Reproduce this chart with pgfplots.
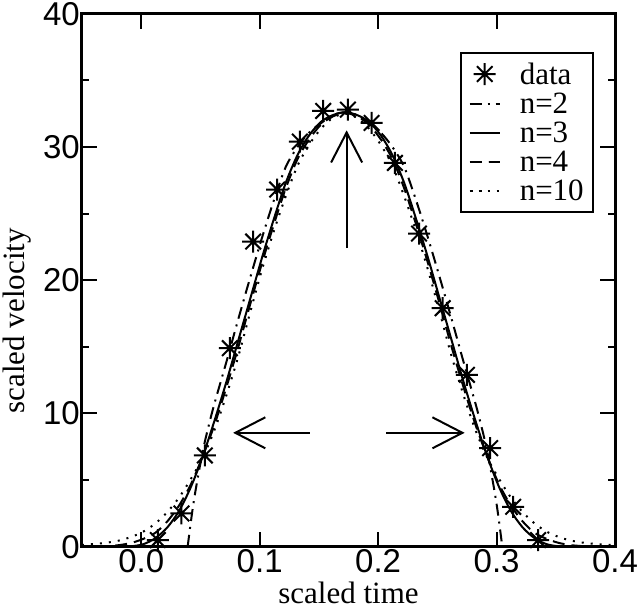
\documentclass[border=0pt]{standalone}
\usepackage{fontspec}
\setmainfont{Liberation Serif}
\newfontfamily\ticksans{Liberation Sans}
\usepackage{pgfplots}
\pgfplotsset{compat=1.18}
\usetikzlibrary{arrows.meta}

\newcommand\tickfont{\ticksans\fontsize{33}{33}\selectfont}
\newcommand\labfont{\fontsize{31}{31}\selectfont}
\newcommand\legfont{\fontsize{31}{31}\selectfont}

% eight-armed asterisk, as in the original plot
\pgfdeclareplotmark{star8}{%
  \pgfpathmoveto{\pgfqpoint{0pt}{\pgfplotmarksize}}%
  \pgfpathlineto{\pgfqpoint{0pt}{-\pgfplotmarksize}}%
  \pgfpathmoveto{\pgfqpoint{\pgfplotmarksize}{0pt}}%
  \pgfpathlineto{\pgfqpoint{-\pgfplotmarksize}{0pt}}%
  \pgfpathmoveto{\pgfqpoint{.707\pgfplotmarksize}{.707\pgfplotmarksize}}%
  \pgfpathlineto{\pgfqpoint{-.707\pgfplotmarksize}{-.707\pgfplotmarksize}}%
  \pgfpathmoveto{\pgfqpoint{-.707\pgfplotmarksize}{.707\pgfplotmarksize}}%
  \pgfpathlineto{\pgfqpoint{.707\pgfplotmarksize}{-.707\pgfplotmarksize}}%
  \pgfusepathqstroke}

\begin{document}
\begin{tikzpicture}
\begin{axis}[
    width=533pt, height=533pt, scale only axis,
    xmin=-0.05, xmax=0.4, ymin=0, ymax=40,
    xtick={0,0.1,0.2,0.3,0.4},
    xticklabels={0.0,0.1,0.2,0.3,0.4},
    ytick={0,10,20,30,40},
    minor ytick={5,15,25,35},
    tick align=inside,
    major tick length=15pt, minor tick length=7pt,
    tick style={line width=2pt, black},
    axis line style={line width=3pt},
    ticklabel style={font=\tickfont, inner sep=2pt},
    /pgf/number format/assume math mode=true,
    xlabel={scaled time}, ylabel={scaled velocity},
    label style={font=\labfont},
    xlabel style={yshift=-4pt},
    ylabel style={at={(ticklabel cs:0.424)}, yshift=6pt},
    legend image code/.code={%
        \draw[mark repeat=2,mark phase=2,#1] plot coordinates {(0pt,0pt) (15pt,0pt) (30pt,0pt)};},
    legend style={at={(0.96,0.929)}, anchor=north east, draw=black, line width=2pt,
        font=\legfont, inner xsep=8pt, inner ysep=9pt, row sep=5pt,
        nodes={inner sep=1pt},
        /tikz/every odd column/.append style={column sep=18pt}},
    legend cell align=left,
]
\addplot[only marks, mark=star8, mark size=11pt, mark options={line width=2pt}] coordinates {
    (0.014,0.5) (0.034,2.5) (0.0537,6.85) (0.0748,14.9) (0.0945,22.9) (0.1148,26.8)
    (0.1339,30.4) (0.1536,32.7) (0.1745,32.8) (0.1945,31.8) (0.2142,28.8) (0.2345,23.5)
    (0.2545,17.9) (0.275,12.9) (0.2945,7.4) (0.314,3.0) (0.335,0.5)
};
\addlegendentry{data}
\addplot[smooth, line width=2pt, dash pattern=on 12pt off 6pt on 2pt off 6pt] coordinates {
    (0.0392,0) (0.0415,1.6) (0.044,3.2) (0.047,4.8) (0.052,7.2) (0.057,9.1) (0.062,10.8)
    (0.072,13.9) (0.082,17.1) (0.092,20.2) (0.102,23.2) (0.112,26.0) (0.122,28.5)
    (0.132,30.0) (0.142,31.1) (0.152,31.8) (0.162,32.4) (0.172,32.6) (0.182,32.4)
    (0.192,31.8) (0.202,31.1) (0.212,30.0) (0.222,28.5) (0.232,26.0) (0.242,23.2)
    (0.252,20.2) (0.262,17.1) (0.272,13.9) (0.282,10.8) (0.287,9.1) (0.292,7.2)
    (0.297,4.8) (0.300,3.2) (0.3025,1.6) (0.3048,0)
};
\addlegendentry{n=2}
\addplot[smooth, line width=2pt] coordinates {
    (-0.018,0) (-0.008,0.04) (0.002,0.2) (0.012,0.65) (0.022,1.45) (0.032,2.7) (0.042,4.5)
    (0.052,6.8) (0.062,9.5) (0.072,12.4) (0.082,15.5) (0.092,18.6) (0.102,21.7)
    (0.112,24.6) (0.122,27.3) (0.132,29.4) (0.142,30.9) (0.152,31.9) (0.162,32.4)
    (0.172,32.6) (0.182,32.4) (0.192,31.9) (0.202,30.9) (0.212,29.4) (0.222,27.3)
    (0.232,24.6) (0.242,21.7) (0.252,18.6) (0.262,15.5) (0.272,12.4) (0.282,9.5)
    (0.292,6.8) (0.302,4.5) (0.312,2.7) (0.322,1.45) (0.332,0.65) (0.342,0.2)
    (0.352,0.04) (0.362,0)
};
\addlegendentry{n=3}
\addplot[smooth, line width=2pt, dash pattern=on 12pt off 7pt] coordinates {
    (-0.038,0) (-0.028,0.05) (-0.018,0.13) (-0.008,0.3) (0.002,0.6) (0.012,1.05)
    (0.022,1.9) (0.032,3.1) (0.042,4.7) (0.052,6.8) (0.062,9.2) (0.072,12.0)
    (0.082,15.0) (0.092,18.2) (0.102,21.3) (0.112,24.2) (0.122,26.9) (0.132,29.1)
    (0.142,30.6) (0.152,31.7) (0.162,32.3) (0.172,32.55) (0.182,32.3) (0.192,31.7)
    (0.202,30.6) (0.212,29.1) (0.222,26.9) (0.232,24.2) (0.242,21.3) (0.252,18.2)
    (0.262,15.0) (0.272,12.0) (0.282,9.2) (0.292,6.8) (0.302,4.7) (0.312,3.1)
    (0.322,1.9) (0.332,1.05) (0.342,0.6) (0.352,0.3) (0.362,0.13) (0.372,0.05) (0.382,0)
};
\addlegendentry{n=4}
\addplot[smooth, line width=2pt, dash pattern=on 2pt off 7pt] coordinates {
    (-0.05,0.14) (-0.038,0.22) (-0.028,0.32) (-0.018,0.48) (-0.008,0.75) (0.002,1.15)
    (0.012,1.75) (0.022,2.6) (0.032,3.7) (0.042,5.1) (0.052,6.7) (0.062,8.8)
    (0.072,11.4) (0.082,14.3) (0.092,17.6) (0.102,20.8) (0.112,23.7) (0.122,26.3)
    (0.132,28.6) (0.142,30.2) (0.152,31.4) (0.162,32.2) (0.172,32.5) (0.182,32.2)
    (0.192,31.4) (0.202,30.2) (0.212,28.6) (0.222,26.3) (0.232,23.7) (0.242,20.8)
    (0.252,17.6) (0.262,14.3) (0.272,11.4) (0.282,8.8) (0.292,6.7) (0.302,5.1)
    (0.312,3.7) (0.322,2.6) (0.332,1.75) (0.342,1.15) (0.352,0.75) (0.362,0.48)
    (0.372,0.32) (0.382,0.22) (0.392,0.15) (0.400,0.12)
};
\addlegendentry{n=10}
% arrows
\draw[line width=2pt, -{Straight Barb[length=30pt, width=31pt]}] (axis cs:0.1734,22.4) -- (axis cs:0.1734,31.25);
\draw[line width=2pt, -{Straight Barb[length=30pt, width=31pt]}] (axis cs:0.1423,8.55) -- (axis cs:0.0776,8.55);
\draw[line width=2pt, -{Straight Barb[length=30pt, width=31pt]}] (axis cs:0.207,8.55) -- (axis cs:0.273,8.55);
\end{axis}
\end{tikzpicture}
\end{document}
